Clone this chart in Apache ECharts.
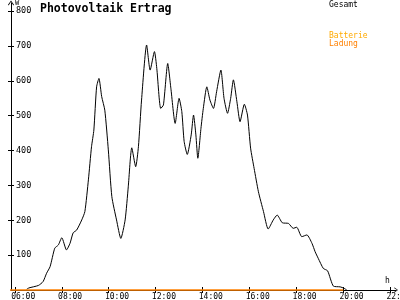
<!DOCTYPE html>
<html>
<head>
<meta charset="utf-8">
<script src="https://cdn.jsdelivr.net/npm/echarts@6/dist/echarts.min.js"></script>
<style>html,body{margin:0;padding:0;background:#fff}#c{width:400px;height:300px}</style>
</head>
<body>
<div id="c"></div>
<script>
// ---- data ----
const times = ["06:30","06:36","07:00","07:12","07:21","07:30","07:42","07:51","08:00","08:12",
  "08:21","08:29","08:38","08:51","08:59","09:08","09:16","09:22","09:29","09:35",
  "09:42","09:50","09:59","10:08","10:20","10:31","10:42","10:50","10:59","11:09",
  "11:16","11:24","11:37","11:46","11:57","12:03","12:13","12:20","12:31","12:39",
  "12:50","13:00","13:07","13:13","13:21","13:31","13:37","13:43","13:48","13:56",
  "14:02","14:11","14:19","14:28","14:36","14:47","14:55","15:04","15:12","15:19",
  "15:28","15:36","15:47","15:55","16:03","16:12","16:23","16:36","16:48","17:01",
  "17:11","17:24","17:40","17:52","18:01","18:14","18:27","18:40","18:48","18:56",
  "19:09","19:20","19:35","19:52","20:02","20:09"];
const gesamt = [2,6,13,24,48,67,120,129,150,115,
  134,164,172,201,225,316,411,459,583,607,
  555,516,402,268,201,148,201,296,408,354,
  411,545,703,631,684,636,521,531,650,579,
  478,550,512,426,389,445,502,445,378,464,
  521,583,545,521,569,631,550,507,550,603,
  540,483,533,502,407,349,282,225,175,201,
  215,193,191,177,180,153,158,134,110,91,
  62,55,11,9,5,0];
const ladungTimes = ["05:20","20:00"];
const ladung = [0,0];
const xTicks = ["06:00","08:00","10:00","12:00","14:00","16:00","18:00","20:00","22:00"];
const yTicks = [100,200,300,400,500,600,700,800];

function toH(t){const p=t.split(":");return +p[0]+ +p[1]/60;}
function pad(n){return (n<10?"0":"")+n;}

const X_MIN = 5 + 50/60, X_MAX = 22.25, Y_MAX = 823.5;
const LBL_SHIFT = 0.16;
const chevron = 'path://M5,0 L10,7 L9,8 L5,2 L1,8 L0,7 Z';
const mono = 'DejaVu Sans Mono';

const chart = echarts.init(document.getElementById('c'), null, {renderer:'canvas'});
chart.setOption({
  animation:false,
  backgroundColor:'#fff',
  title:{text:'Photovoltaik Ertrag', left:40, top:3, padding:0,
    textStyle:{fontFamily:mono, fontWeight:'bold', fontSize:11.5, color:'#000'}},
  grid:{left:11, right:4, top:3, bottom:10, containLabel:false, outerBoundsMode:'none'},
  xAxis:[{
    type:'value', min:X_MIN, max:X_MAX,
    axisLine:{show:true, lineStyle:{color:'#000', width:1}, symbol:['none', chevron], symbolSize:[6,4]},
    axisTick:{show:true, length:3, lineStyle:{color:'#000'}, customValues:xTicks.map(toH)},
    axisLabel:{show:true, customValues:xTicks.map(t=>toH(t)-LBL_SHIFT), align:'left', margin:3,
      formatter:v=>pad(Math.round(v+LBL_SHIFT))+':00', fontFamily:mono, fontSize:8, color:'#000'},
    splitLine:{show:false}
  },{
    type:'value', min:X_MIN, max:X_MAX, position:'bottom',
    axisLine:{show:false},
    axisTick:{show:true, inside:true, length:3, lineStyle:{color:'#000'}, customValues:xTicks.map(toH)},
    axisLabel:{show:false}, splitLine:{show:false}
  }],
  yAxis:[{
    type:'value', min:0, max:Y_MAX,
    axisLine:{show:true, lineStyle:{color:'#000', width:1}, symbol:['none', chevron], symbolSize:[6,5]},
    axisTick:{show:true, length:3, lineStyle:{color:'#000'}, customValues:yTicks},
    axisLabel:{show:true, inside:true, margin:5, customValues:yTicks, fontFamily:mono, fontSize:8.5, color:'#000'},
    splitLine:{show:false}
  },{
    type:'value', min:0, max:Y_MAX, position:'left',
    axisLine:{show:false},
    axisTick:{show:true, inside:true, length:3, lineStyle:{color:'#000'}, customValues:yTicks},
    axisLabel:{show:false}, splitLine:{show:false}
  }],
  series:[{
    name:'Gesamt', type:'line', showSymbol:false, smooth:0.2, z:3,
    lineStyle:{color:'#000', width:1},
    data:times.map((t,i)=>[toH(t), gesamt[i]])
  },{
    name:'Ladung', type:'line', showSymbol:false, clip:false, z:4,
    lineStyle:{color:'#ff8000', width:1.5},
    data:ladungTimes.map((t,i)=>[toH(t), ladung[i]])
  }],
  graphic:[
    {type:'text', left:15, top:0, style:{text:'W', fontFamily:mono, fontSize:7, fill:'#000'}},
    {type:'text', left:385, top:277, style:{text:'h', fontFamily:mono, fontSize:8, fill:'#000'}},
    {type:'text', left:329, top:1, style:{text:'Gesamt', fontFamily:mono, fontSize:8, fill:'#000'}},
    {type:'text', left:329, top:32, style:{text:'Batterie', fontFamily:mono, fontSize:8, fill:'#ffaa00'}},
    {type:'text', left:329, top:40, style:{text:'Ladung', fontFamily:mono, fontSize:8, fill:'#ff8000'}}
  ]
});
</script>
</body>
</html>
